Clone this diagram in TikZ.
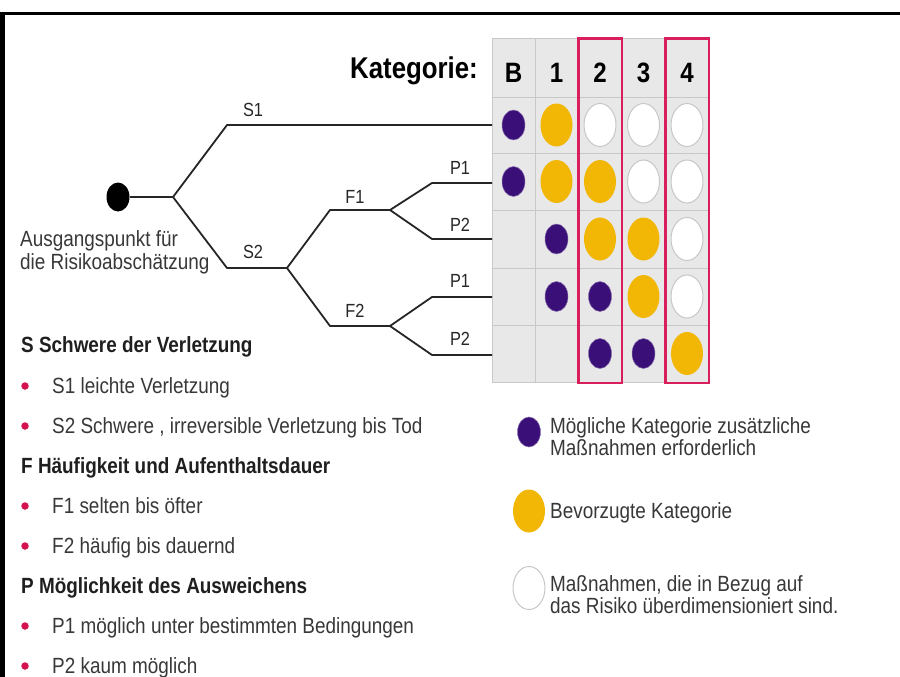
\documentclass[tikz,border=0pt]{standalone}
\usepackage{fontspec}
\setmainfont{Liberation Sans}[FakeStretch=0.86]
\usetikzlibrary{shapes.geometric}

\definecolor{violett}{HTML}{3A0F78}
\definecolor{gelb}{HTML}{F2B705}
\definecolor{rahmenrot}{HTML}{D91F5B}
\definecolor{punktrot}{HTML}{D3124F}
\definecolor{zellgrau}{HTML}{E8E8E8}
\definecolor{liniengrau}{HTML}{C8C8C8}
\definecolor{schrift}{HTML}{383838}

\tikzset{
  zelle/.style={fill=zellgrau, draw=liniengrau, line width=0.8pt},
  kopf/.style={font=\fontsize{28}{30}\selectfont\bfseries, text=black, anchor=base, inner sep=0pt},
  violettpunkt/.style={ellipse, fill=violett, draw=violett!60, line width=0.5pt, minimum width=23pt, minimum height=30pt, inner sep=0pt},
  gelbpunkt/.style={ellipse, fill=gelb, minimum width=32pt, minimum height=43pt, inner sep=0pt},
  leerpunkt/.style={ellipse, fill=white, draw=black!22, line width=1pt, minimum width=32pt, minimum height=43pt, inner sep=0pt},
  kategorierahmen/.style={draw=rahmenrot, line width=2.5pt},
  ast/.style={draw=black!85, line width=1.8pt, line join=round},
  astlabel/.style={font=\fontsize{19}{21}\selectfont, text=black!85, anchor=base, inner sep=0pt},
  legtext/.style={font=\fontsize{22}{22}\selectfont, text=schrift, anchor=base west, inner sep=0pt, align=left},
  legkopf/.style={font=\fontsize{22}{24}\selectfont\bfseries, text=black!88, anchor=base west, inner sep=0pt},
  aufzpunkt/.style={circle, fill=punktrot, minimum size=7.5pt, inner sep=0pt},
}

\begin{document}
\begin{tikzpicture}[x=1pt, y=-1pt]
\useasboundingbox (0,0) rectangle (900,677);
\fill[white] (0,0) rectangle (900,677);

% frame lines
\fill[black] (0,12) rectangle (900,15.5);
\fill[black] (0,12) rectangle (4.5,677);

% category grid
\foreach \xa/\xb in {492/535, 535/578, 578/622, 622/665, 665/709}
  \foreach \ya/\yb in {38/97, 97/153, 153/210, 210/268, 268/325, 325/382}
    \draw[zelle] (\xa,\ya) rectangle (\xb,\yb);

% heading of the grid
\node[kopf, font=\fontsize{30}{32}\selectfont\bfseries, anchor=base east] (kat) at (478,78) {Kategorie:};
\node[kopf] (hB) at (513.5,82) {B};
\node[kopf] (h1) at (556.5,82) {1};
\node[kopf] (h2) at (600,82) {2};
\node[kopf] (h3) at (643.5,82) {3};
\node[kopf] (h4) at (687,82) {4};

% row 1 (S1)
\node[violettpunkt] (a1) at (513.5,125) {};
\node[gelbpunkt]    (a2) at (556.5,125) {};
\node[leerpunkt]    (a3) at (600,125) {};
\node[leerpunkt]    (a4) at (643.5,125) {};
\node[leerpunkt]    (a5) at (687,125) {};
% row 2 (S2 F1 P1)
\node[violettpunkt] (b1) at (513.5,181.5) {};
\node[gelbpunkt]    (b2) at (556.5,181.5) {};
\node[gelbpunkt]    (b3) at (600,181.5) {};
\node[leerpunkt]    (b4) at (643.5,181.5) {};
\node[leerpunkt]    (b5) at (687,181.5) {};
% row 3 (S2 F1 P2)
\node[violettpunkt] (c2) at (556.5,239) {};
\node[gelbpunkt]    (c3) at (600,239) {};
\node[gelbpunkt]    (c4) at (643.5,239) {};
\node[leerpunkt]    (c5) at (687,239) {};
% row 4 (S2 F2 P1)
\node[violettpunkt] (d2) at (556.5,296.5) {};
\node[violettpunkt] (d3) at (600,296.5) {};
\node[gelbpunkt]    (d4) at (643.5,296.5) {};
\node[leerpunkt]    (d5) at (687,296.5) {};
% row 5 (S2 F2 P2)
\node[violettpunkt] (e3) at (600,353.5) {};
\node[violettpunkt] (e4) at (643.5,353.5) {};
\node[gelbpunkt]    (e5) at (687,353.5) {};

% highlighted categories 2 and 4
\draw[kategorierahmen] (578.5,38.5) rectangle (622,383);
\draw[kategorierahmen] (665.5,38.5) rectangle (709,383);

% decision tree
\node[ellipse, fill=black, minimum width=23pt, minimum height=29pt, inner sep=0pt] (start) at (118,197) {};
\coordinate (k0) at (173,197);
\coordinate (s1) at (227,125);
\coordinate (s2) at (227,268);
\coordinate (k1) at (287,268);
\coordinate (f1) at (330,210);
\coordinate (k2) at (390,210);
\coordinate (f2) at (330,326);
\coordinate (k3) at (390,326);
\coordinate (p11) at (432,183);
\coordinate (p12) at (432,239);
\coordinate (p21) at (432,297);
\coordinate (p22) at (432,355);
\coordinate (r1) at (492,125);
\coordinate (r2) at (492,183);
\coordinate (r3) at (492,239);
\coordinate (r4) at (492,297);
\coordinate (r5) at (492,355);

\draw[ast] (start.east) -- (k0);
\draw[ast] (k0) -- (s1) -- (r1);
\draw[ast] (k0) -- (s2) -- (k1);
\draw[ast] (k1) -- (f1) -- (k2);
\draw[ast] (k1) -- (f2) -- (k3);
\draw[ast] (k2) -- (p11) -- (r2);
\draw[ast] (k2) -- (p12) -- (r3);
\draw[ast] (k3) -- (p21) -- (r4);
\draw[ast] (k3) -- (p22) -- (r5);

\node[astlabel] (lS1) at (253,116) {S1};
\node[astlabel] (lS2) at (253,258) {S2};
\node[astlabel] (lF1) at (355,203) {F1};
\node[astlabel] (lF2) at (355,317) {F2};
\node[astlabel] (lP11) at (460,174) {P1};
\node[astlabel] (lP12) at (460,231) {P2};
\node[astlabel] (lP21) at (460,287) {P1};
\node[astlabel] (lP22) at (460,345) {P2};

% two-line labels: the base anchor sits on the last line
\node[legtext, font=\fontsize{22}{23}\selectfont] (ausgang) at (20,269) {Ausgangspunkt für\\die Risikoabschätzung};

% explanation of the parameters
\node[legkopf] (kS) at (21,352) {S Schwere der Verletzung};
\node[aufzpunkt] (bS1) at (25,386) {};
\node[legtext] (tS1) at (52,393) {S1 leichte Verletzung};
\node[aufzpunkt] (bS2) at (25,426) {};
\node[legtext] (tS2) at (52,433) {S2 Schwere , irreversible Verletzung bis Tod};
\node[legkopf] (kF) at (21,473) {F Häufigkeit und Aufenthaltsdauer};
\node[aufzpunkt] (bF1) at (25,506) {};
\node[legtext] (tF1) at (52,513) {F1 selten bis öfter};
\node[aufzpunkt] (bF2) at (25,546) {};
\node[legtext] (tF2) at (52,553) {F2 häufig bis dauernd};
\node[legkopf] (kP) at (21,593) {P Möglichkeit des Ausweichens};
\node[aufzpunkt] (bP1) at (25,626) {};
\node[legtext] (tP1) at (52,633) {P1 möglich unter bestimmten Bedingungen};
\node[aufzpunkt] (bP2) at (25,666) {};
\node[legtext] (tP2) at (52,673) {P2 kaum möglich};

% key of the symbols
\node[violettpunkt] (lv) at (529,432) {};
\node[legtext] (tv) at (550,455) {Mögliche Kategorie zusätzliche\\Maßnahmen erforderlich};
\node[gelbpunkt] (lg) at (529,511) {};
\node[legtext] (tg) at (550,518) {Bevorzugte Kategorie};
\node[leerpunkt] (lw) at (529,588) {};
\node[legtext] (tw) at (550,613) {Maßnahmen, die in Bezug auf\\das Risiko überdimensioniert sind.};
\end{tikzpicture}
\end{document}
